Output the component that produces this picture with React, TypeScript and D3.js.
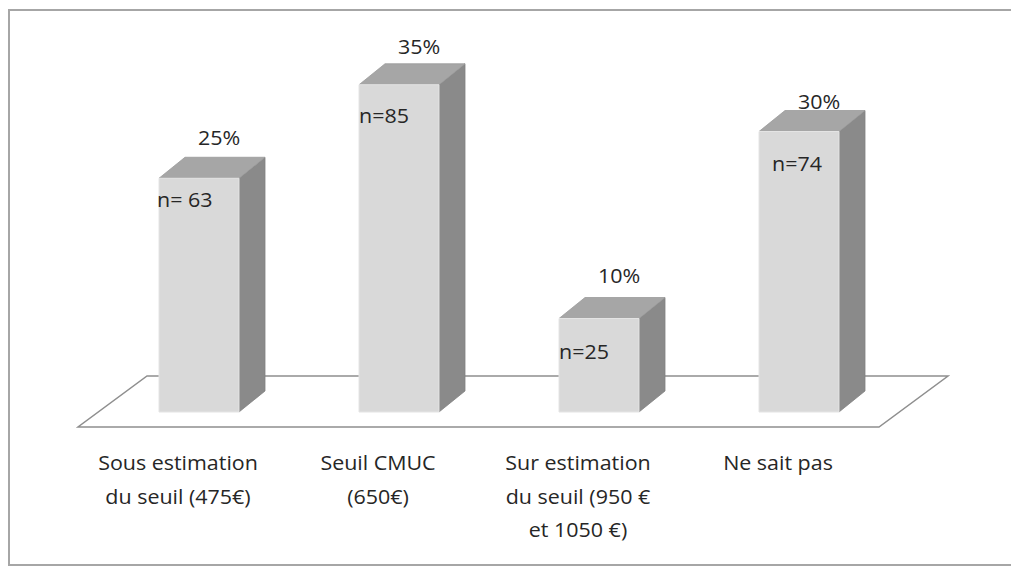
import React from "react";
import * as d3 from "d3";

// ---- data ----
const categories: string[] = ["sous", "seuil", "sur", "nsp"];
const categoryLabels: string[][] = [
  ["Sous estimation", "du seuil (475€)"],
  ["Seuil CMUC", "(650€)"],
  ["Sur estimation", "du seuil (950 €", "et 1050 €)"],
  ["Ne sait pas"],
];
const percentValues: number[] = [25, 35, 10, 30];
const percentLabels: string[] = ["25%", "35%", "10%", "30%"];
const countLabels: string[] = ["n= 63", "n=85", "n=25", "n=74"];

// ---- layout ----
const W = 1011;
const H = 566;
const FLOOR_FRONT_Y = 427;
const FLOOR_LEFT = 78;
const FLOOR_RIGHT = 878;
const FLOOR_DX = 69;
const FLOOR_DY = -51;
const BAR_SHIFT_X = 21; // bar front offset into the floor
const BASE_Y = 412;
const BAR_W = 80;
const DEPTH_X = 26;
const DEPTH_Y = -21;
const pctNudge = [-12, -10, -15, -2];
const nNudge = [
  [-2, 29],
  [0, 38],
  [0, 40],
  [13, 39],
];
const FONT = "'Open Sans', sans-serif";
const SX = 1.1;
const TEXT = "#262626";

export default function App() {
  const x = d3
    .scaleBand<string>()
    .domain(categories)
    .range([FLOOR_LEFT, FLOOR_RIGHT])
    .paddingInner(0)
    .paddingOuter(0);
  const y = d3.scaleLinear().domain([0, 40]).range([BASE_Y, BASE_Y - 374]);

  const floor = [
    [FLOOR_LEFT, FLOOR_FRONT_Y],
    [FLOOR_RIGHT + 1, FLOOR_FRONT_Y],
    [FLOOR_RIGHT + 1 + FLOOR_DX, FLOOR_FRONT_Y + FLOOR_DY],
    [FLOOR_LEFT + FLOOR_DX, FLOOR_FRONT_Y + FLOOR_DY],
  ];
  const line = d3.line();

  const txt = (
    key: string,
    tx: number,
    ty: number,
    s: string,
    anchor: "start" | "middle" = "middle"
  ) => (
    <text
      key={key}
      transform={`translate(${tx},${ty}) scale(${SX},1)`}
      textAnchor={anchor}
      fontFamily={FONT}
      fontSize={19.5}
      fill={TEXT}
    >
      {s}
    </text>
  );

  return (
    <svg
      width={W}
      height={H}
      style={{ position: "fixed", left: 0, top: 0, display: "block", background: "#fff" }}
    >
      <rect x={9} y={10} width={1010} height={555} fill="#fff" stroke="#a6a6a6" strokeWidth={2} />
      <path d={line(floor as [number, number][])! + "Z"} fill="#fff" stroke="#8f8f8f" strokeWidth={1.5} />
      {categories.map((c, i) => {
        const cx = x(c)! + x.bandwidth() / 2 + BAR_SHIFT_X;
        const x0 = cx - BAR_W / 2;
        const x1 = cx + BAR_W / 2;
        const yt = y(percentValues[i]);
        const y0 = y(0);
        const front = [
          [x0, yt],
          [x1, yt],
          [x1, y0],
          [x0, y0],
        ];
        const top = [
          [x0, yt],
          [x0 + DEPTH_X, yt + DEPTH_Y],
          [x1 + DEPTH_X, yt + DEPTH_Y],
          [x1, yt],
        ];
        const side = [
          [x1, yt],
          [x1 + DEPTH_X, yt + DEPTH_Y],
          [x1 + DEPTH_X, y0 + DEPTH_Y],
          [x1, y0],
        ];
        return (
          <g key={c}>
            <path d={line(side as [number, number][])! + "Z"} fill="#8a8a8a" stroke="#808080" strokeWidth={0.8} />
            <path d={line(top as [number, number][])! + "Z"} fill="#a6a6a6" stroke="#9a9a9a" strokeWidth={0.8} />
            <path d={line(front as [number, number][])! + "Z"} fill="#d9d9d9" stroke="#e4e4e4" strokeWidth={1} />
            {txt("p" + i, cx + 20, yt + DEPTH_Y + pctNudge[i], percentLabels[i])}
            {txt("n" + i, x0 + nNudge[i][0], yt + nNudge[i][1], countLabels[i], "start")}
          </g>
        );
      })}
      {categories.map((c, i) => {
        const cx = x(c)! + x.bandwidth() / 2;
        return (
          <g key={"l" + c}>
            {categoryLabels[i].map((s, j) => txt(`l${i}-${j}`, cx, 470 + j * 33.5, s))}
          </g>
        );
      })}
    </svg>
  );
}
